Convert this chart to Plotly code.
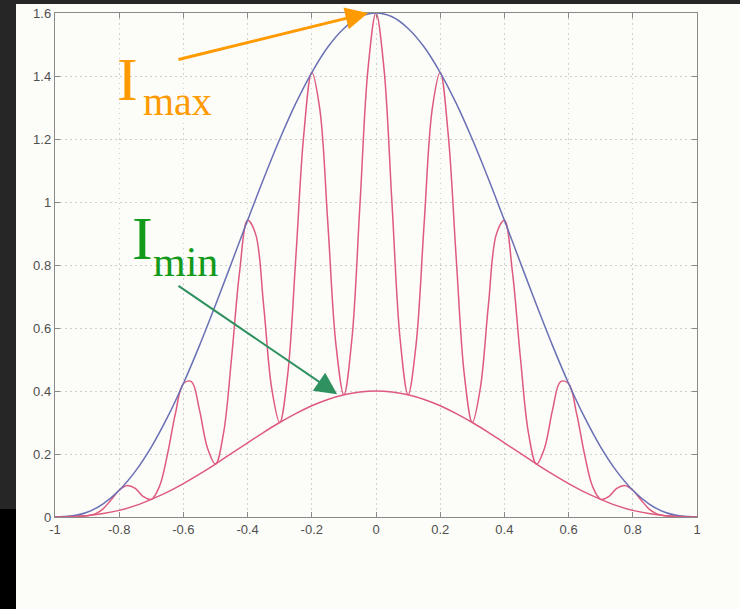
import plotly.graph_objects as go

# ---- data ----
x_fine = [round(-1 + 0.025 * i, 3) for i in range(81)]
intensity = [
    0.000, 0.000, 0.002, 0.003, 0.004, 0.010, 0.026, 0.055, 0.085, 0.100,
    0.091, 0.065, 0.056, 0.096, 0.197, 0.328, 0.424, 0.430, 0.340, 0.219,
    0.168, 0.266, 0.504, 0.778, 0.942, 0.898, 0.671, 0.409, 0.300, 0.453,
    0.820, 1.214, 1.411, 1.294, 0.932, 0.549, 0.388, 0.566, 0.992, 1.422,
    1.600,
    1.422, 0.992, 0.566, 0.388, 0.549, 0.932, 1.294, 1.411, 1.214, 0.820,
    0.453, 0.300, 0.409, 0.671, 0.898, 0.942, 0.778, 0.504, 0.266, 0.168,
    0.219, 0.340, 0.430, 0.424, 0.328, 0.197, 0.096, 0.056, 0.065, 0.091,
    0.100, 0.085, 0.055, 0.026, 0.010, 0.004, 0.003, 0.002, 0.000, 0.000,
]

x_env = [round(-1 + 0.05 * i, 2) for i in range(41)]
i_max_env = [
    0.000, 0.003, 0.015, 0.042, 0.085, 0.145, 0.222, 0.316, 0.424, 0.544,
    0.673, 0.807, 0.942, 1.074, 1.199, 1.313, 1.411, 1.492, 1.551, 1.588,
    1.600,
    1.588, 1.551, 1.492, 1.411, 1.313, 1.199, 1.074, 0.942, 0.807, 0.673,
    0.544, 0.424, 0.316, 0.222, 0.145, 0.085, 0.042, 0.015, 0.003, 0.000,
]
i_min_env = [
    0.000, 0.001, 0.004, 0.011, 0.021, 0.036, 0.056, 0.079, 0.106, 0.136,
    0.168, 0.202, 0.235, 0.269, 0.300, 0.328, 0.353, 0.373, 0.388, 0.397,
    0.400,
    0.397, 0.388, 0.373, 0.353, 0.328, 0.300, 0.269, 0.235, 0.202, 0.168,
    0.136, 0.106, 0.079, 0.056, 0.036, 0.021, 0.011, 0.004, 0.001, 0.000,
]

x_tick_vals = [-1, -0.8, -0.6, -0.4, -0.2, 0, 0.2, 0.4, 0.6, 0.8, 1]
x_tick_text = ["-1", "-0.8", "-0.6", "-0.4", "-0.2", "0", "0.2", "0.4", "0.6", "0.8", "1"]
y_tick_vals = [0, 0.2, 0.4, 0.6, 0.8, 1, 1.2, 1.4, 1.6]
y_tick_text = ["0", "0.2", "0.4", "0.6", "0.8", "1", "1.2", "1.4", "1.6"]

RED = "#de5a7e"
BLUE = "#6a70b4"
BG = "#fcfcf9"

fig = go.Figure()
fig.add_trace(go.Scatter(x=x_fine, y=intensity, mode="lines",
                         line=dict(color=RED, width=1.5, shape="spline"),
                         hoverinfo="skip"))
fig.add_trace(go.Scatter(x=x_env, y=i_max_env, mode="lines",
                         line=dict(color=BLUE, width=1.5, shape="spline"),
                         hoverinfo="skip"))
fig.add_trace(go.Scatter(x=x_env, y=i_min_env, mode="lines",
                         line=dict(color=RED, width=1.5, shape="spline"),
                         hoverinfo="skip"))

axis_common = dict(
    showline=True, linecolor="#8a8a8a", linewidth=1.4, mirror="ticks",
    ticks="inside", ticklen=5, tickcolor="#8a8a8a", tickwidth=1.4,
    showgrid=True, gridcolor="#cfcfcf", griddash="1.5px,3.5px", gridwidth=1,
    zeroline=False, automargin=False,
    tickfont=dict(family="Liberation Sans, Arial", size=13, color="#4f4f4f"),
)

fig.update_xaxes(range=[-1, 1], tickmode="array", tickvals=x_tick_vals,
                 ticktext=x_tick_text, **axis_common)
fig.update_yaxes(range=[0, 1.6], tickmode="array", tickvals=y_tick_vals,
                 ticktext=y_tick_text, **axis_common)

serif = "Liberation Serif, Times New Roman, serif"
ORANGE = "#ff9a00"
GREEN_TXT = "#139a1a"
GREEN_ARW = "#2f9060"

annotations = [
    dict(xref="paper", yref="paper", x=0.0935, y=0.869, xanchor="left", yanchor="middle",
         text="I", showarrow=False, font=dict(family=serif, size=62, color=ORANGE)),
    dict(xref="paper", yref="paper", x=0.134, y=0.8244, xanchor="left", yanchor="middle",
         text="max", showarrow=False, font=dict(family=serif, size=40, color=ORANGE)),
    dict(xref="paper", yref="paper", x=0.117, y=0.5536, xanchor="left", yanchor="middle",
         text="I", showarrow=False, font=dict(family=serif, size=62, color=GREEN_TXT)),
    dict(xref="paper", yref="paper", x=0.1495, y=0.506, xanchor="left", yanchor="middle",
         text="min", showarrow=False, font=dict(family=serif, size=42, color=GREEN_TXT)),
    dict(x=-0.025, y=1.600, ax=-0.620, ay=1.451, xref="x", yref="y", axref="x", ayref="y",
         text="", showarrow=True, arrowhead=2, arrowsize=1.5, arrowwidth=3,
         arrowcolor=ORANGE),
    dict(x=-0.121, y=0.390, ax=-0.620, ay=0.737, xref="x", yref="y", axref="x", ayref="y",
         text="", showarrow=True, arrowhead=2, arrowsize=2.2, arrowwidth=2,
         arrowcolor=GREEN_ARW),
]

W, H = 740, 609
L, R, T, B = 55, 43, 13, 92
pw, ph = W - L - R, H - T - B

def px_x(px):
    return (px - L) / pw

def px_y(py):
    return (H - B - py) / ph

shapes = [
    dict(type="rect", xref="paper", yref="paper", x0=px_x(0), x1=px_x(W), y0=px_y(0), y1=px_y(4),
         fillcolor="#262626", line=dict(width=0), layer="below"),
    dict(type="rect", xref="paper", yref="paper", x0=px_x(0), x1=px_x(16), y0=px_y(0), y1=px_y(509),
         fillcolor="#262626", line=dict(width=0), layer="below"),
    dict(type="rect", xref="paper", yref="paper", x0=px_x(0), x1=px_x(16), y0=px_y(509), y1=px_y(H),
         fillcolor="#000000", line=dict(width=0), layer="below"),
]

fig.update_layout(
    width=W, height=H,
    margin=dict(l=L, r=R, t=T, b=B, pad=0, autoexpand=False),
    paper_bgcolor=BG, plot_bgcolor=BG,
    showlegend=False,
    annotations=annotations,
    shapes=shapes,
)

post = (
    "document.documentElement.style.margin='0';"
    "document.documentElement.style.padding='0';"
    "document.body.style.margin='0';"
    "document.body.style.padding='0';"
    "document.body.style.overflow='hidden';"
    "document.body.style.background='" + BG + "';"
    "var gd=document.getElementById('{plot_id}');"
    "gd.style.position='fixed';gd.style.top='0px';gd.style.left='0px';"
)

fig.write_html("out.html", post_script=post,
               config={"displayModeBar": False, "responsive": False})
